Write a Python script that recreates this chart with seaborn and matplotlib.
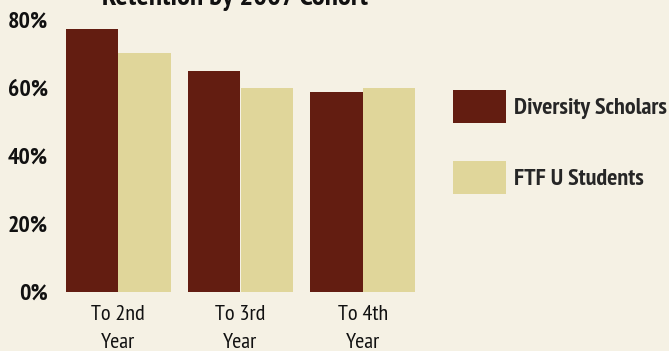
"""Retention by 2007 cohort: Diversity Scholars vs FTF U students."""

import pandas as pd
import matplotlib
matplotlib.use("Agg")
import matplotlib.pyplot as plt
import seaborn as sns

stages = ["To 2nd\nYear", "To 3rd\nYear", "To 4th\nYear"]
groups = ["Diversity Scholars", "FTF U Students"]
diversity_scholars = [77.5, 65.0, 58.8]
ftf_students = [70.3, 60.0, 60.0]
y_ticks = [0, 20, 40, 60, 80]

BG = "#F5F1E4"
COLORS = ["#631D11", "#E0D69A"]

df = pd.DataFrame(
    {
        "stage": stages * 2,
        "group": [groups[0]] * 3 + [groups[1]] * 3,
        "value": diversity_scholars + ftf_students,
    }
)

sns.set_theme(style="white")
plt.rcParams["font.family"] = ["PT Sans Narrow", "Roboto Condensed", "Fira Sans Condensed", "DejaVu Sans"]

W, H = 669, 351
fig = plt.figure(figsize=(W / 100, H / 100), dpi=100, facecolor=BG)
ax = fig.add_axes([57 / W, 1 - 292 / H, (424 - 57) / W, (292 - 20) / H])
ax.set_facecolor(BG)

sns.barplot(
    data=df, x="stage", y="value", hue="group", palette=COLORS,
    saturation=1, width=0.86, linewidth=0, ax=ax,
)

ax.set_xlim(-0.5, 2.5)
ax.set_ylim(0, 80)
ax.set_yticks(y_ticks)
ax.set_yticklabels([f"{t}%" for t in y_ticks], fontsize=17.2, fontweight="bold", color="#111111")
ax.set_xticks(range(len(stages)), labels=stages, fontsize=16, linespacing=1.65, color="#111111")
ax.tick_params(axis="x", length=0, pad=9)
ax.tick_params(axis="y", length=0, pad=6.5)
ax.set_xlabel("")
ax.set_ylabel("")
sns.despine(ax=ax, left=True, bottom=True)

handles, labels = ax.get_legend_handles_labels()
ax.get_legend().remove()
fig.legend(
    handles, labels, loc="upper left", bbox_to_anchor=(453 / W, 1 - 90 / H),
    frameon=False, prop={"size": 17.4, "weight": "bold"},
    handlelength=2.19, handleheight=1.72, handletextpad=0.33,
    labelspacing=1.58, borderpad=0, borderaxespad=0,
)

fig.text(235 / W, 1 + 2 / H, "Retention by 2007 Cohort", ha="center", va="center",
         fontsize=21, fontweight="bold", color="#111111")

fig.savefig("out.png", dpi=100, facecolor=BG)
